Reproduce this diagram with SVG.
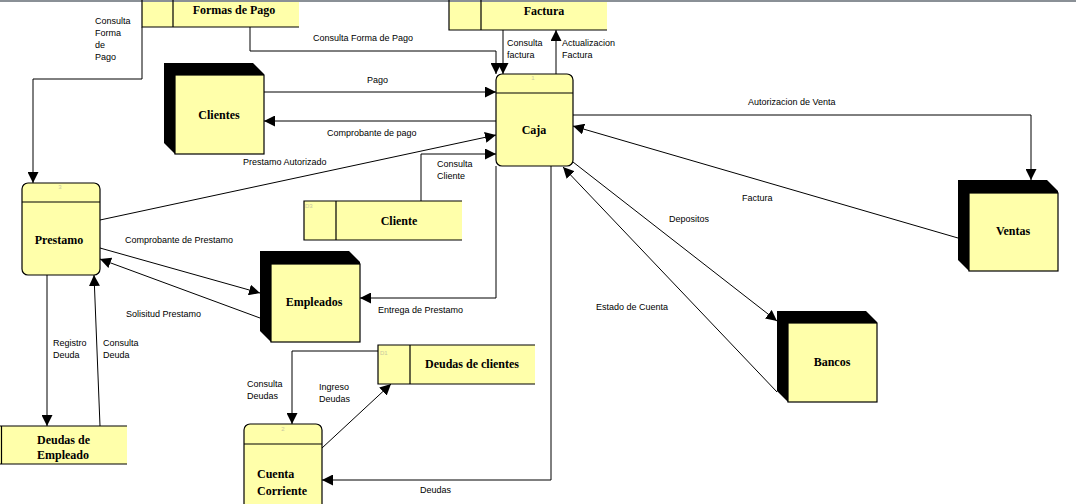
<svg xmlns="http://www.w3.org/2000/svg" width="1076" height="504" viewBox="0 0 1076 504">
<style>
.face{fill:#FFFFAA;stroke:#000;stroke-width:1.2}
.fill{fill:#FFFFAA}
.ln{stroke:#000;stroke-width:1.2;fill:none}
.sh{fill:#000}
.nt{font-family:"Liberation Serif","Times New Roman",serif;font-weight:bold;font-size:12px;fill:#000}
.lb{font-family:"Liberation Sans",Arial,sans-serif;font-size:9px;fill:#000}
.num{font-family:"Liberation Sans",Arial,sans-serif;font-size:6px;fill:#c8c8a0}
.cn{stroke:#000;stroke-width:1;fill:none;marker-end:url(#ah)}
</style>
<defs>
<marker id="ah" viewBox="0 0 10 10" refX="10" refY="5" markerWidth="11" markerHeight="11" markerUnits="userSpaceOnUse" orient="auto">
<path d="M0,0 L10,5 L0,10 z" fill="#000"/>
</marker>
</defs>
<rect x="0" y="0" width="1076" height="504" fill="#fff"/>
<rect x="0" y="0" width="1076" height="2" fill="#8a9096"/>

<g id="connectors">
<path class="cn" d="M142,27 V79 H33 V183"/>
<path class="cn" d="M250,27 V51 H496 V74"/>
<path class="cn" d="M503,30 V74"/>
<path class="cn" d="M556,74 V30"/>
<path class="cn" d="M264,92 H496"/>
<path class="cn" d="M496,121 H264"/>
<path class="cn" d="M100,220 L496,135"/>
<path class="cn" d="M421,201 V154 H496"/>
<path class="cn" d="M573,115 H1031 V180"/>
<path class="cn" d="M958,238 L573,126"/>
<path class="cn" d="M573,162 L777,321"/>
<path class="cn" d="M777,392 L563,167"/>
<path class="cn" d="M551,166 V480 H322"/>
<path class="cn" d="M496,166 V298 H360"/>
<path class="cn" d="M100,248 L260,293"/>
<path class="cn" d="M260,318 L100,259"/>
<path class="cn" d="M47,275 V426"/>
<path class="cn" d="M100,426 L94,275"/>
<path class="cn" d="M378,351 H292 V424"/>
<path class="cn" d="M322,448 L391,384"/>
<text class="lb" x="95" y="24">Consulta</text>
<text class="lb" x="95" y="36">Forma</text>
<text class="lb" x="95" y="48">de</text>
<text class="lb" x="95" y="60">Pago</text>
<text class="lb" x="313" y="41">Consulta Forma de Pago</text>
<text class="lb" x="507" y="46">Consulta</text>
<text class="lb" x="507" y="58">factura</text>
<text class="lb" x="562" y="46">Actualizacion</text>
<text class="lb" x="562" y="58">Factura</text>
<text class="lb" x="367" y="83">Pago</text>
<text class="lb" x="327" y="136">Comprobante de pago</text>
<text class="lb" x="243" y="165">Prestamo Autorizado</text>
<text class="lb" x="437" y="167">Consulta</text>
<text class="lb" x="437" y="179">Cliente</text>
<text class="lb" x="748" y="105">Autorizacion de Venta</text>
<text class="lb" x="742" y="201">Factura</text>
<text class="lb" x="669" y="222">Depositos</text>
<text class="lb" x="596" y="310">Estado de Cuenta</text>
<text class="lb" x="420" y="493">Deudas</text>
<text class="lb" x="378" y="313">Entrega de Prestamo</text>
<text class="lb" x="125" y="243">Comprobante de Prestamo</text>
<text class="lb" x="126" y="317">Solisitud Prestamo</text>
<text class="lb" x="53" y="346">Registro</text>
<text class="lb" x="53" y="358">Deuda</text>
<text class="lb" x="103" y="346">Consulta</text>
<text class="lb" x="103" y="358">Deuda</text>
<text class="lb" x="247" y="387">Consulta</text>
<text class="lb" x="247" y="399">Deudas</text>
<text class="lb" x="319" y="390">Ingreso</text>
<text class="lb" x="319" y="402">Deudas</text>
</g>

<g id="formas-de-pago">
<rect class="fill" x="142" y="2" width="157" height="25"/>
<path class="ln" d="M142,0 V27 H299 M173,0 V27"/>
<text class="nt" x="234" y="14" text-anchor="middle">Formas de Pago</text>
</g>

<g id="factura">
<rect class="fill" x="449" y="2" width="158" height="28"/>
<path class="ln" d="M449,0 V30 H607 M481,0 V30"/>
<text class="nt" x="544" y="15" text-anchor="middle">Factura</text>
</g>

<g id="caja">
<rect class="face" x="496" y="74" width="77" height="92" rx="6"/>
<path class="ln" d="M496,93 H573"/>
<text class="num" x="533" y="80" text-anchor="middle">1</text>
<text class="nt" x="534" y="134" text-anchor="middle">Caja</text>
</g>

<g id="clientes">
<polygon class="sh" points="164,63 253,63 264,74 264,154 175,154 164,143"/>
<rect class="face" x="175" y="75" width="89" height="79"/>
<text class="nt" x="219" y="119" text-anchor="middle">Clientes</text>
</g>

<g id="prestamo">
<rect class="face" x="22" y="183" width="78" height="92" rx="6"/>
<path class="ln" d="M22,202 H100"/>
<text class="num" x="60" y="189" text-anchor="middle">3</text>
<text class="nt" x="59" y="244" text-anchor="middle">Prestamo</text>
</g>

<g id="cliente">
<rect class="fill" x="304" y="201" width="158" height="39"/>
<path class="ln" d="M462,201 H304 V240 H462 M336,201 V240"/>
<text class="num" x="305" y="208">D3</text>
<text class="nt" x="399" y="225" text-anchor="middle">Cliente</text>
</g>

<g id="empleados">
<polygon class="sh" points="260,251 349,251 360,262 360,342 271,342 260,331"/>
<rect class="face" x="271" y="264" width="89" height="78"/>
<text class="nt" x="314" y="306" text-anchor="middle">Empleados</text>
</g>

<g id="deudas-de-clientes">
<rect class="fill" x="378" y="345" width="157" height="39"/>
<path class="ln" d="M535,345 H378 V384 H535 M410,345 V384"/>
<text class="num" x="380" y="355">D1</text>
<text class="nt" x="472" y="368" text-anchor="middle">Deudas de clientes</text>
</g>

<g id="cuenta-corriente">
<rect class="face" x="244" y="424" width="78" height="92" rx="6"/>
<path class="ln" d="M244,444 H322"/>
<text class="num" x="283" y="431" text-anchor="middle">2</text>
<text class="nt" x="257" y="478">Cuenta</text>
<text class="nt" x="257" y="495">Corriente</text>
</g>

<g id="deudas-de-empleado">
<rect class="fill" x="0" y="426" width="127" height="38"/>
<path class="ln" d="M127,426 H0 M0,464 H127 M1.5,426 V464"/>
<text class="nt" x="37" y="444">Deudas de</text>
<text class="nt" x="37" y="459">Empleado</text>
</g>

<g id="ventas">
<polygon class="sh" points="958,180 1047,180 1058,191 1058,271 969,271 958,260"/>
<rect class="face" x="969" y="193" width="89" height="78"/>
<text class="nt" x="1013" y="235" text-anchor="middle">Ventas</text>
</g>

<g id="bancos">
<polygon class="sh" points="777,311 866,311 877,322 877,402 788,402 777,391"/>
<rect class="face" x="788" y="323" width="89" height="79"/>
<text class="nt" x="832" y="366" text-anchor="middle">Bancos</text>
</g>
</svg>
